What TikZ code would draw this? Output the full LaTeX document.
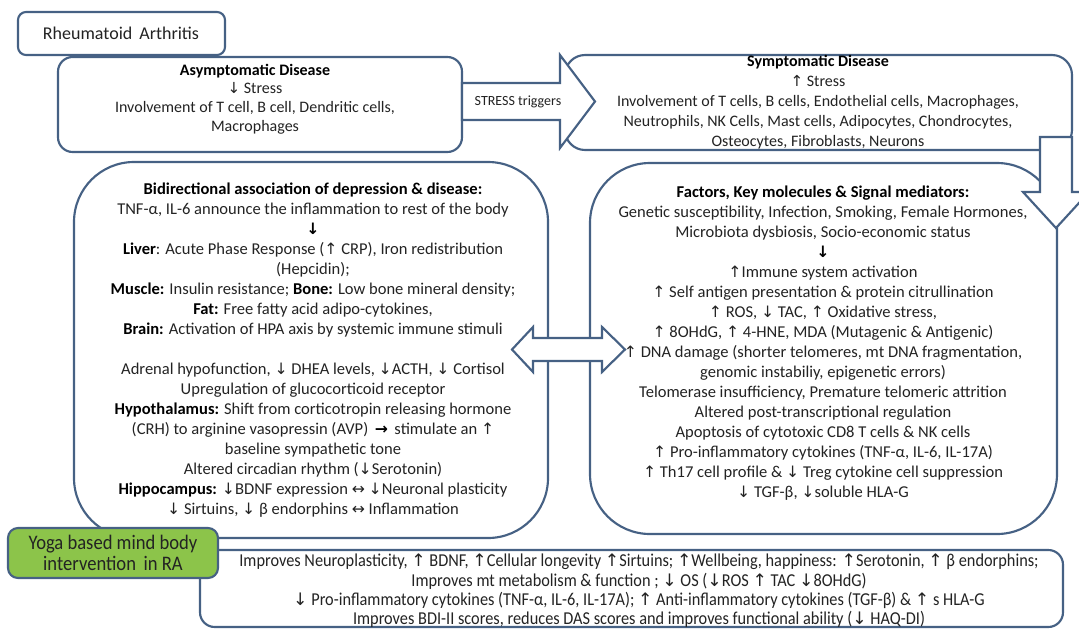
\documentclass[tikz,border=0pt]{standalone}
\usepackage{fontspec}
\setmainfont{Carlito}
\newfontfamily\symf{DejaVu Sans}[Scale=0.95]
\newfontfamily\condf{Carlito}[FakeStretch=0.9]
\newfontfamily\yogaf{Carlito}[FakeStretch=0.9]
\definecolor{bord}{RGB}{70,97,132}
\definecolor{txtc}{RGB}{35,35,35}
\definecolor{yogag}{RGB}{140,196,74}
\newcommand\myup{{\symf ↑}}
\newcommand\mydn{{\symf ↓}}
\newcommand\mylr{{\symf ↔}}
\newcommand\myrt{{\symf\bfseries →}}
\newcommand\mybdn{{\symf\bfseries ↓}}
\begin{document}
\begin{tikzpicture}[x=0.75pt,y=-0.75pt,
  box/.style={draw=bord, fill=white, line width=1.6pt, inner sep=0pt},
  bodytext/.style={align=center, text=txtc, font=\fontsize{12.4}{15}\selectfont, inner sep=0pt},
  toptext/.style={bodytext, font=\fontsize{12}{14}\selectfont},
  blockarrow/.style={draw=bord, fill=white, line width=1.6pt, line join=miter}]
\useasboundingbox (0,0) rectangle (1079,629);
% boxes
\node[box, rounded corners=6pt, minimum width=155.25pt, minimum height=32.25pt] (ra) at (121.5,33.5) {};
\node[box, rounded corners=11pt, minimum width=303pt, minimum height=71.25pt] (asym) at (260,104.5) {};
\node[box, rounded corners=15pt, minimum width=380.25pt, minimum height=71.25pt] (sympt) at (818.5,102.5) {};
\node[box, rounded corners=45pt, minimum width=355.5pt, minimum height=282pt] (left) at (311,350) {};
\node[box, rounded corners=45pt, minimum width=350.25pt, minimum height=278.25pt] (right) at (823.5,348.5) {};
\node[box, rounded corners=11pt, minimum width=647.25pt, minimum height=57.75pt] (bottom) at (631.5,588.5) {};
\node[box, fill=yogag, rounded corners=7.5pt, minimum width=157.5pt, minimum height=37.5pt] (yoga) at (113,553) {};
% block arrows
\draw[blockarrow] (462,83) -- (560,83) -- (560,55) -- (595,101.5) -- (560,148) -- (560,120) -- (462,120) -- cycle;
\draw[blockarrow] (1040,137) -- (1072,137) -- (1072,192) -- (1089,192) -- (1056,228) -- (1023,192) -- (1040,192) -- cycle;
\draw[blockarrow] (512,349.5) -- (533,327) -- (533,338) -- (602,338) -- (602,327) -- (625,349.5) -- (602,372) -- (602,361) -- (533,361) -- (533,372) -- cycle;
% texts
\node[bodytext, font=\fontsize{13.5}{15}\selectfont] (ratext) at (121,33) {Rheumatoid\, Arthritis};
\node[bodytext, font=\fontsize{10.5}{12}\selectfont] (stresslbl) at (518,101.5) {STRESS triggers};
\node[toptext] (asymtext) at (255,99) {\textbf{\color{black}Asymptomatic Disease}\\ \mydn{} Stress\\ Involvement of T cell, B cell, Dendritic cells,\\ Macrophages};
\node[toptext, font=\fontsize{12}{15}\selectfont] (symptext) at (818,102.5) {\textbf{\color{black}Symptomatic Disease}\\ \myup{} Stress\\ Involvement of T cells, B cells, Endothelial cells, Macrophages,\\ Neutrophils, NK Cells, Mast cells, Adipocytes, Chondrocytes,\\ Osteocytes, Fibroblasts, Neurons};
\node[bodytext] (lefttext) at (313,350) {\textbf{\color{black}Bidirectional association of depression \& disease:}\\
TNF-α, IL-6 announce the inflammation to rest of the body\\
{\color{black}\mybdn}\\
\textbf{\color{black}Liver}: Acute Phase Response (\myup{} CRP), Iron redistribution\\
(Hepcidin);\\
\textbf{\color{black}Muscle:} Insulin resistance; \textbf{\color{black}Bone:} Low bone mineral density;\\
\textbf{\color{black}Fat:} Free fatty acid adipo-cytokines,\\
\textbf{\color{black}Brain:} Activation of HPA axis by systemic immune stimuli\\[15pt]
Adrenal hypofunction, \mydn{} DHEA levels, \mydn ACTH, \mydn{} Cortisol\\
Upregulation of glucocorticoid receptor\\
\textbf{\color{black}Hypothalamus:} Shift from corticotropin releasing hormone\\
(CRH) to arginine vasopressin (AVP) \,{\color{black}\myrt}\, stimulate an \myup\\
baseline sympathetic tone\\
Altered circadian rhythm (\mydn Serotonin)\\
\textbf{\color{black}Hippocampus:} \mydn BDNF expression \mylr{} \mydn Neuronal plasticity\\
\mydn{} Sirtuins, \mydn{} β endorphins \mylr{} Inflammation};
\node[bodytext] (righttext) at (823,343) {\textbf{\color{black}Factors, Key molecules \& Signal mediators:}\\
Genetic susceptibility, Infection, Smoking, Female Hormones,\\
Microbiota dysbiosis, Socio-economic status\\
{\color{black}\mybdn}\\
\myup Immune system activation\\
\myup{} Self antigen presentation \& protein citrullination\\
\myup{} ROS, \mydn{} TAC, \myup{} Oxidative stress,\\
\myup{} 8OHdG, \myup{} 4-HNE, MDA (Mutagenic \& Antigenic)\\
\myup{} DNA damage (shorter telomeres, mt DNA fragmentation,\\
genomic instabiliy, epigenetic errors)\\
Telomerase insufficiency, Premature telomeric attrition\\
Altered post-transcriptional regulation\\
Apoptosis of cytotoxic CD8 T cells \& NK cells\\
\myup{} Pro-inflammatory cytokines (TNF-α, IL-6, IL-17A)\\
\myup{} Th17 cell profile \& \mydn{} Treg cytokine cell suppression\\
\mydn{} TGF-β, \mydn soluble HLA-G};
\node[bodytext, font=\condf\fontsize{13.6}{14.5}\selectfont] (bottomtext) at (639,591) {Improves Neuroplasticity, \myup{} BDNF, \myup Cellular longevity \myup Sirtuins; \myup Wellbeing, happiness: \myup Serotonin, \myup{} β endorphins;\\
Improves mt metabolism \& function ; \mydn{} OS (\mydn ROS \myup{} TAC \mydn 8OHdG)\\
\mydn{} Pro-inflammatory cytokines (TNF-α, IL-6, IL-17A); \myup{} Anti-inflammatory cytokines (TGF-β) \& \myup{} s HLA-G\\
Improves BDI-II scores, reduces DAS scores and improves functional ability (\mydn{} HAQ-DI)};
\node[bodytext, font=\yogaf\fontsize{15.5}{16}\selectfont] (yogatext) at (113,553) {Yoga based mind body\\ intervention\, in RA};
\end{tikzpicture}
\end{document}
